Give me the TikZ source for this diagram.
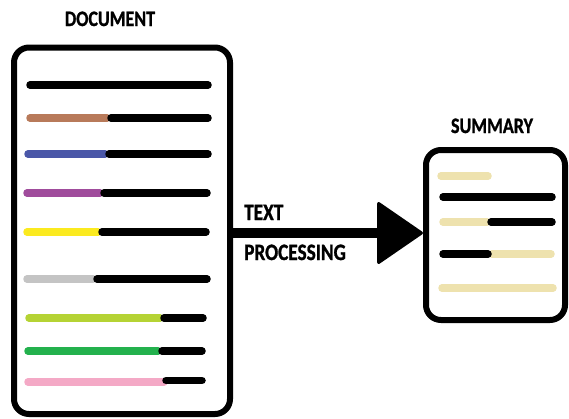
\documentclass[tikz,border=0pt]{standalone}
\usepackage{fontspec}
\usepackage{graphicx}
\setmainfont{Carlito}[BoldFeatures={FakeBold=1.2}]
\usetikzlibrary{arrows.meta}

\definecolor{cbrown}{HTML}{B87A5A}
\definecolor{cblue}{HTML}{4A57A8}
\definecolor{cpurple}{HTML}{A04C9C}
\definecolor{cyellow}{HTML}{FBEA1F}
\definecolor{cgray}{HTML}{C4C4C4}
\definecolor{clime}{HTML}{B5D334}
\definecolor{cgreen}{HTML}{23B14D}
\definecolor{cpink}{HTML}{F4A9C6}
\definecolor{cbeige}{HTML}{EEE2AE}

\tikzset{
  panel/.style={draw=black, line width=6pt, rounded corners=15pt, fill=white, inner sep=0pt},
  bar/.style={line width=7.5pt, line cap=round},
  lbl/.style={inner sep=0pt, font=\bfseries\fontsize{23.5}{24}\selectfont},
  title/.style={inner sep=0pt, font=\bfseries\fontsize{22}{22}\selectfont},
  flow/.style={line width=9.5pt, -{Triangle[length=47pt,width=64pt,round,line width=3pt]}}
}

\newcommand{\narrow}[1]{\scalebox{0.82}[1]{#1}}

\begin{document}
\begin{tikzpicture}[x=1pt,y=-1pt]
\useasboundingbox (0,0) rectangle (569,418);

% boxes
\node[panel, minimum width=216pt, minimum height=366.5pt] (doc) at (122,230.75) {};
\node[panel, minimum width=139pt, minimum height=170pt] (sum) at (495.5,235) {};

% titles
\node[title, anchor=base] (doctitle) at (110,26) {\narrow{DOCUMENT}};
\node[title, anchor=base] (sumtitle) at (492,133) {\narrow{SUMMARY}};

% document lines (end points at the centres of the round caps)
\draw[bar, black] (30,85) -- (208,85);
\draw[bar, cbrown] (30,118) -- (107,118);  \draw[bar, black] (111,118) -- (208,118);
\draw[bar, cblue] (28,154) -- (105,154);   \draw[bar, black] (109,154) -- (208,154);
\draw[bar, cpurple] (27,193) -- (100,193); \draw[bar, black] (104,193) -- (207,193);
\draw[bar, cyellow] (27,232) -- (98,232);  \draw[bar, black] (102,232) -- (206,232);
\draw[bar, cgray] (27,279) -- (93,279);    \draw[bar, black] (97,279) -- (207,279);
\draw[bar, clime] (29,318) -- (160,318);   \draw[bar, black] (164,318) -- (203,318);
\draw[bar, cgreen] (28,351) -- (158,351);  \draw[bar, black] (162,351) -- (202,351);
\draw[bar, cpink] (28,382) -- (164,382);   \draw[bar, black] (166,380.5) -- (202,380.5);

% summary lines
\draw[bar, cbeige] (441,176) -- (488,176);
\draw[bar, black] (443,197) -- (552,197);
\draw[bar, cbeige] (443,222) -- (487,222); \draw[bar, black] (491,222) -- (552,222);
\draw[bar, cbeige] (492,254) -- (551,254); \draw[bar, black] (443,254) -- (488,254);
\draw[bar, cbeige] (442,288) -- (553,288);

% processing arrow
\coordinate (flowy) at (0,233);
\draw[flow] (doc.east |- flowy) -- (sum.west |- flowy);
\node[lbl, anchor=base west] (t1) at (244,220) {\narrow{TEXT}};
\node[lbl, anchor=base west] (t2) at (244,260) {\narrow{PROCESSING}};
\end{tikzpicture}
\end{document}
